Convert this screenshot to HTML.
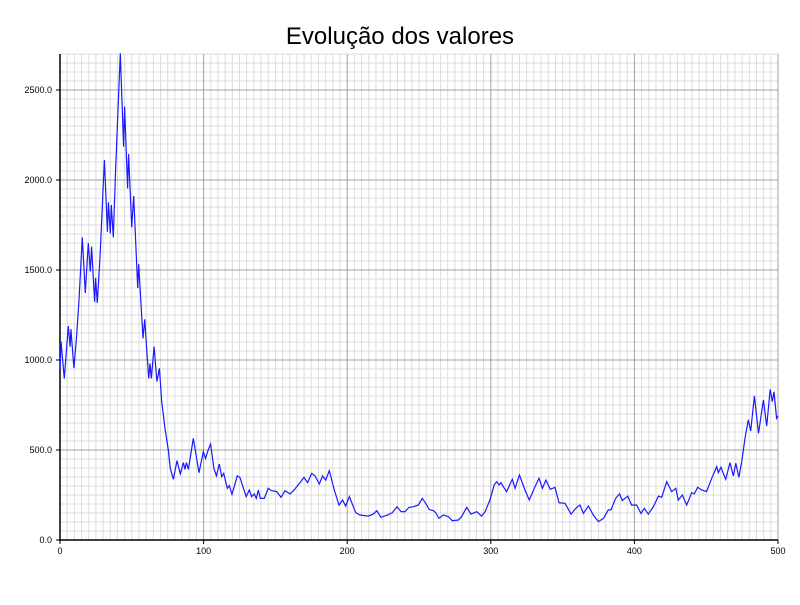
<!DOCTYPE html>
<html><head><meta charset="utf-8"><style>
body{margin:0;background:#fff;width:800px;height:600px;overflow:hidden;font-family:"Liberation Sans",sans-serif}
</style></head><body>
<svg id="chart" width="800" height="600" xmlns="http://www.w3.org/2000/svg">
<rect width="800" height="600" fill="#fff"/>
<text x="400" y="44" text-anchor="middle" font-size="24" font-family="Liberation Sans, sans-serif">Evolução dos valores</text>
<g id="grid"></g><g id="axes"></g><g id="series"></g>
</svg>
<script>
const xTicks=[0,100,200,300,400,500];
const yTicks=[0,500,1000,1500,2000,2500];
const yTickLabels=["0.0","500.0","1000.0","1500.0","2000.0","2500.0"];
const xs=[0,0.7,3,5.8,7,7.6,9.7,11.6,13.2,15.5,17.6,19.7,21.1,22,24.1,24.8,26,28,30.9,33,33.7,35,35.7,37.1,38.8,42,44.3,45,47.1,47.8,49.9,51.3,54.1,54.8,57.8,59,61.8,62.7,63.6,65.5,67.5,69.2,70.8,73.1,75.4,76.8,79,81.5,83.8,85.9,87,88,89.4,92.8,96.8,99.8,101.4,102.8,104.9,107.2,108.9,110.9,112.6,114,116.5,117.9,119.8,123.5,125.3,129.7,131.8,133.4,135.3,136.7,138.1,139.5,142.3,145,147.4,150.9,153.9,156.7,160.2,162.5,164.8,167.1,169.9,172.4,175.3,177.6,180.6,182.9,185,187.5,191,194.3,196.8,198.9,201.5,205.9,208.9,214.7,218.2,220.6,223.5,228.2,231.4,234.7,237.5,240.3,243,246,249.5,252.3,254.7,257,260,261.6,263.9,266.9,270.4,273.2,277.4,279.7,283.2,286.2,290.2,293.6,296,299.4,302.4,304.1,305.7,307.1,308.7,311,315,316.9,319.9,323.8,326.8,330.3,333.6,335.9,338.4,341.4,344.7,347.5,351.7,355.9,359.8,362.1,364.5,368,371.4,374.9,378.4,381.8,383.7,386.9,389.7,391.6,395.3,398.1,401.6,404.6,406.9,409.7,413.2,416.7,419,422.5,426,428.8,430.6,433.4,436.4,439.9,441.7,444.1,446.8,450.3,453.8,457.3,458.4,460.3,461.9,463.6,466.6,468.9,470.6,472.8,474.7,477,479.3,481,483.6,486.4,489.8,492.1,494.6,496,497.2,499,500];
const values=[950,1102,898,1189,1074,1172,955,1139,1333,1681,1372,1650,1491,1630,1324,1456,1317,1593,2111,1713,1876,1704,1861,1681,2074,2704,2185,2407,1954,2144,1737,1911,1400,1533,1120,1226,898,981,898,1074,880,954,769,620,500,398,337,441,367,430,392,430,392,565,374,491,453,491,533,398,356,422,352,370,287,302,254,356,348,241,278,241,256,231,278,231,231,287,274,269,237,274,256,274,296,319,348,319,370,356,311,356,333,385,278,194,222,189,241,152,139,133,144,163,126,139,152,185,157,157,181,185,194,231,204,170,163,152,120,139,130,107,111,130,181,144,157,133,157,222,306,324,306,319,296,269,337,287,361,278,222,287,343,287,333,281,293,207,204,144,181,194,148,189,139,102,120,167,167,231,256,219,244,194,194,148,176,144,185,244,237,324,269,287,222,250,194,263,256,293,278,269,343,407,374,404,370,337,430,356,426,348,435,565,667,606,800,593,778,633,837,769,824,676,690];
const X=v=>60+v*(718/500), Y=v=>540-v*0.18;
const NS="http://www.w3.org/2000/svg";
const grid=document.getElementById('grid'), axes=document.getElementById('axes'), ser=document.getElementById('series');
function ln(p,x1,y1,x2,y2,c,w){const l=document.createElementNS(NS,'line');l.setAttribute('x1',x1);l.setAttribute('y1',y1);l.setAttribute('x2',x2);l.setAttribute('y2',y2);l.setAttribute('stroke',c);l.setAttribute('stroke-width',w);p.appendChild(l);return l;}
for(let v=5;v<=500;v+=5){if(v%100){const l=ln(grid,X(v),54,X(v),540,'#dcdcdc',1);

}}
for(let v=50;v<=2700;v+=50){if(v%500){const l=ln(grid,60,Y(v),778,Y(v),'#dcdcdc',1);

}}
xTicks.forEach(v=>{if(v){const l=ln(grid,X(v),54,X(v),540,'#a0a0a0',1);

}
const t=document.createElementNS(NS,'text');t.setAttribute('x',X(v));t.setAttribute('y',554);t.setAttribute('text-anchor','middle');t.setAttribute('font-size','9');t.textContent=v;


axes.appendChild(t);ln(axes,X(v),540,X(v),544,'#000',1);});
yTicks.forEach((v,i)=>{if(v){const l=ln(grid,60,Y(v),778,Y(v),'#a0a0a0',1);

}
const t=document.createElementNS(NS,'text');t.setAttribute('x',52);t.setAttribute('y',Y(v)+3);t.setAttribute('text-anchor','end');t.setAttribute('font-size','9');t.textContent=yTickLabels[i];


axes.appendChild(t);ln(axes,56,Y(v),60,Y(v),'#000',1);});
const ya=ln(axes,60,54,60,541,'#000',1.5);


const xa=ln(axes,59,540,778,540,'#000',1.5);


const p=document.createElementNS(NS,'polyline');
p.setAttribute('points',xs.map((x,i)=>X(x).toFixed(1)+','+Y(values[i]).toFixed(1)).join(' '));
p.setAttribute('fill','none');p.setAttribute('stroke','#1a1aff');p.setAttribute('stroke-width','1.2');


ser.appendChild(p);
</script>
</body></html>
